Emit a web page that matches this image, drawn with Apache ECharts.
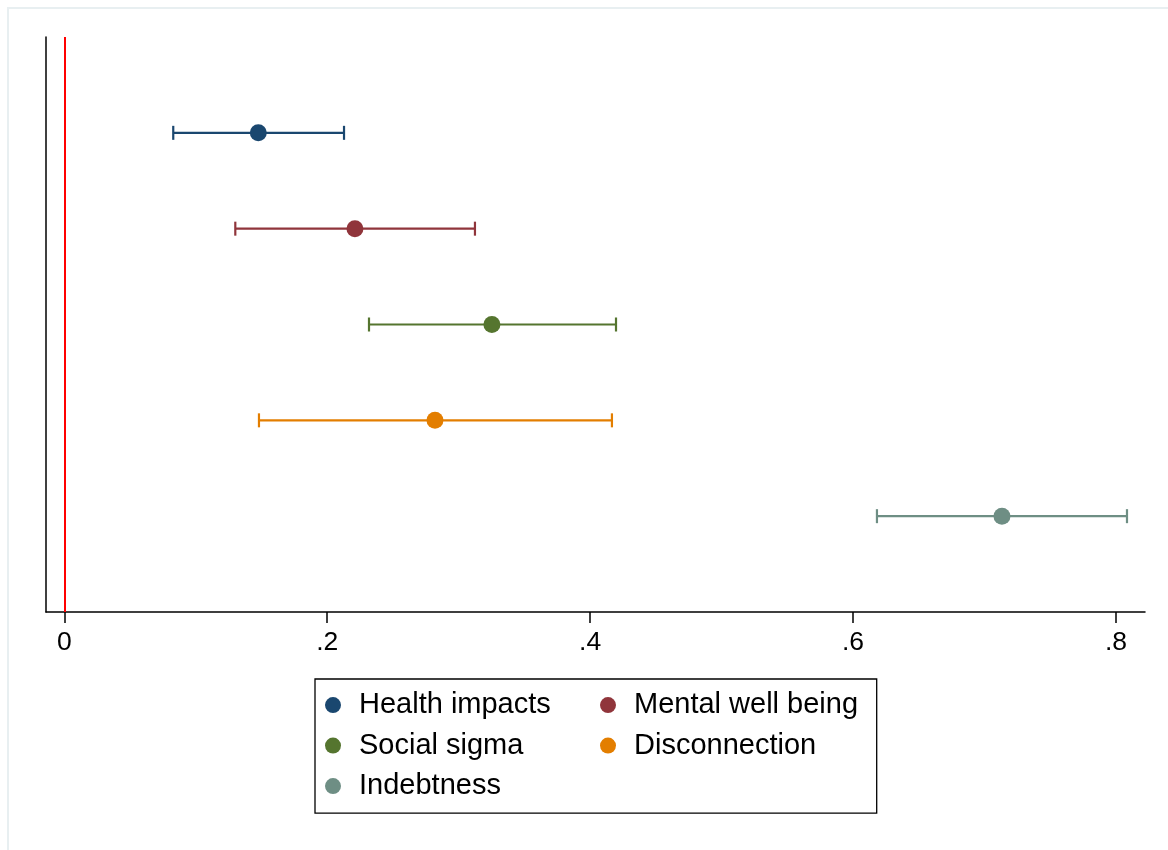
<!DOCTYPE html>
<html>
<head>
<meta charset="utf-8">
<script src="https://cdn.jsdelivr.net/npm/echarts@6/dist/echarts.min.js"></script>
<style>html,body{margin:0;padding:0;background:#fff;}#chart{width:1168px;height:850px;}</style>
</head>
<body>
<div id="chart"></div>
<script>
const categories = ['Health impacts', 'Mental well being', 'Social sigma', 'Disconnection', 'Indebtness'];
const estimates = [0.1476, 0.2211, 0.3253, 0.2820, 0.7133];
const lowerCI = [0.0829, 0.1301, 0.2318, 0.1481, 0.6182];
const upperCI = [0.2128, 0.3124, 0.4197, 0.4166, 0.8084];
const xTicks = [0, 0.2, 0.4, 0.6, 0.8];
const xTickLabels = ['0', '.2', '.4', '.6', '.8'];
const colors = ['#1a476f', '#90353b', '#55752f', '#e37e00', '#6e8e84'];

const FONT = '"Liberation Sans", Arial, Helvetica, sans-serif';
const chart = echarts.init(document.getElementById('chart'), null, {renderer: 'canvas'});

const series = [];
categories.forEach((name, i) => {
  series.push({
    name: name + ' CI',
    type: 'custom',
    data: [[i + 1, lowerCI[i], upperCI[i]]],
    encode: {x: [1, 2], y: 0},
    z: 2,
    silent: true,
    renderItem: function (params, api) {
      const y = api.value(0), lo = api.value(1), hi = api.value(2);
      const p1 = api.coord([lo, y]);
      const p2 = api.coord([hi, y]);
      const h = 7;
      const st = {stroke: colors[i], lineWidth: 2.2, fill: 'none'};
      return {
        type: 'group',
        children: [
          {type: 'line', shape: {x1: p1[0], y1: p1[1], x2: p2[0], y2: p2[1]}, style: st},
          {type: 'line', shape: {x1: p1[0], y1: p1[1] - h, x2: p1[0], y2: p1[1] + h}, style: st},
          {type: 'line', shape: {x1: p2[0], y1: p2[1] - h, x2: p2[0], y2: p2[1] + h}, style: st}
        ]
      };
    }
  });
  series.push({
    name: name,
    type: 'scatter',
    data: [[estimates[i], i + 1]],
    symbol: 'circle',
    symbolSize: 17,
    itemStyle: {color: colors[i], opacity: 1},
    z: 3,
    silent: true
  });
});

series.push({
  name: 'zero',
  type: 'line',
  data: [],
  markLine: {
    silent: true,
    symbol: 'none',
    label: {show: false},
    lineStyle: {color: '#ff0000', width: 2, type: 'solid'},
    data: [{xAxis: 0}],
    animation: false
  }
});

chart.setOption({
  animation: false,
  backgroundColor: '#ffffff',
  graphic: [{
    type: 'rect',
    shape: {x: 8, y: 8, width: 1200, height: 900},
    style: {fill: 'none', stroke: '#e8eff1', lineWidth: 2},
    z: -10,
    silent: true
  }],
  grid: {left: 46, top: 37, right: 23, bottom: 238, containLabel: false},
  xAxis: {
    type: 'value',
    min: -0.0139,
    max: 0.8221,
    axisLine: {show: true, onZero: false, lineStyle: {color: '#000', width: 1.5}},
    axisTick: {show: true, length: 11, customValues: xTicks, lineStyle: {color: '#000', width: 1.5}},
    axisLabel: {
      show: true,
      customValues: xTicks,
      margin: 17,
      fontSize: 26.5,
      color: '#000',
      fontFamily: FONT,
      formatter: function (v) {
        const idx = xTicks.findIndex(t => Math.abs(t - v) < 1e-9);
        return idx >= 0 ? xTickLabels[idx] : '';
      }
    },
    splitLine: {show: false}
  },
  yAxis: {
    type: 'value',
    min: 0,
    max: 6,
    inverse: true,
    axisLine: {show: true, onZero: false, lineStyle: {color: '#000', width: 1.5}},
    axisTick: {show: false},
    axisLabel: {show: false},
    splitLine: {show: false}
  },
  legend: {
    data: categories.map(n => ({name: n, icon: 'circle'})),
    orient: 'horizontal',
    left: 315,
    top: 679,
    width: 620,
    itemWidth: 16,
    itemHeight: 16,
    itemGap: 8.3,
    padding: [10, 10, 11, 10],
    borderColor: '#000',
    borderWidth: 1.3,
    borderRadius: 0,
    backgroundColor: '#fff',
    selectedMode: false,
    textStyle: {
      fontSize: 29,
      color: '#000',
      fontFamily: FONT,
      lineHeight: 32.2,
      width: 232.7,
      overflow: 'none',
      padding: [0, 0, 0, 13]
    }
  },
  series: series
});
</script>
</body>
</html>
